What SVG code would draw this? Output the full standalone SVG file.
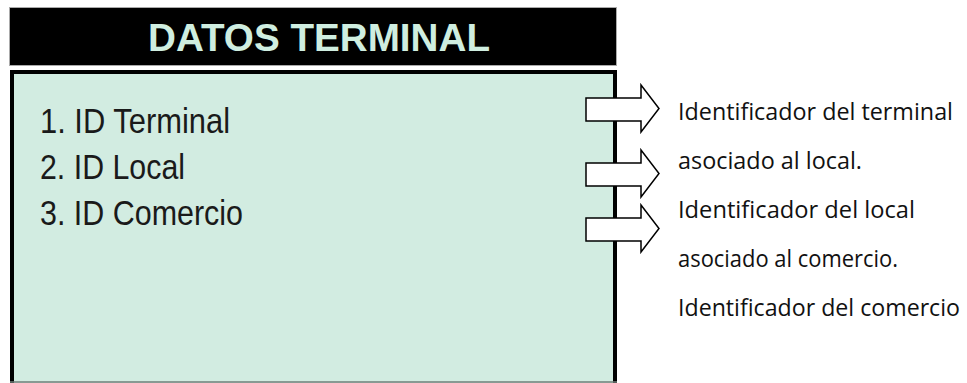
<svg xmlns="http://www.w3.org/2000/svg" width="967" height="383" viewBox="0 0 967 383">
<style>
.item{font-family:"Liberation Sans Narrow","Liberation Sans",Arial,sans-serif;font-size:35px;fill:#1a1a1a}
.desc{font-family:"Open Sans",Lato,sans-serif;font-size:23px;fill:#111}
.arrow{fill:#fff;stroke:#000;stroke-width:1.5;stroke-linejoin:miter}
</style>
<rect width="967" height="383" fill="#fff"/>
<g id="title">
<rect x="9.5" y="7.5" width="607" height="58" fill="#000" stroke="#aaa" stroke-width="1"/>
<text x="148" y="51" font-family="'Liberation Sans',Arial,sans-serif" font-weight="bold" font-size="38" fill="#cfeee0" textLength="342" lengthAdjust="spacingAndGlyphs">DATOS TERMINAL</text>
</g>
<g id="panel">
<rect x="12" y="72" width="603" height="314" fill="#d2ece1" stroke="#000" stroke-width="4"/>
<line x1="10" y1="382" x2="617" y2="382" stroke="#6f7f78" stroke-width="1.5"/>
<text class="item" x="40" y="133" textLength="190" lengthAdjust="spacingAndGlyphs">1. ID Terminal</text>
<text class="item" x="40" y="179" textLength="145" lengthAdjust="spacingAndGlyphs">2. ID Local</text>
<text class="item" x="40" y="225" textLength="203" lengthAdjust="spacingAndGlyphs">3. ID Comercio</text>
</g>
<g id="connectors">
<polygon class="arrow" points="586,98 641,98 641,85 659,108.5 641,132 641,121 586,121"/>
<polygon class="arrow" points="586,163 641,163 641,150 659,173.5 641,197 641,186 586,186"/>
<polygon class="arrow" points="586,218 641,218 641,205 659,228.5 641,252 641,241 586,241"/>
</g>
<g id="descriptions">
<text class="desc" x="678" y="120" textLength="275" lengthAdjust="spacingAndGlyphs">Identificador del terminal</text>
<text class="desc" x="678" y="169" textLength="184" lengthAdjust="spacingAndGlyphs">asociado al local.</text>
<text class="desc" x="678" y="218" textLength="237" lengthAdjust="spacingAndGlyphs">Identificador del local</text>
<text class="desc" x="678" y="267" textLength="220" lengthAdjust="spacingAndGlyphs">asociado al comercio.</text>
<text class="desc" x="678" y="316" textLength="282" lengthAdjust="spacingAndGlyphs">Identificador del comercio</text>
</g>
</svg>
